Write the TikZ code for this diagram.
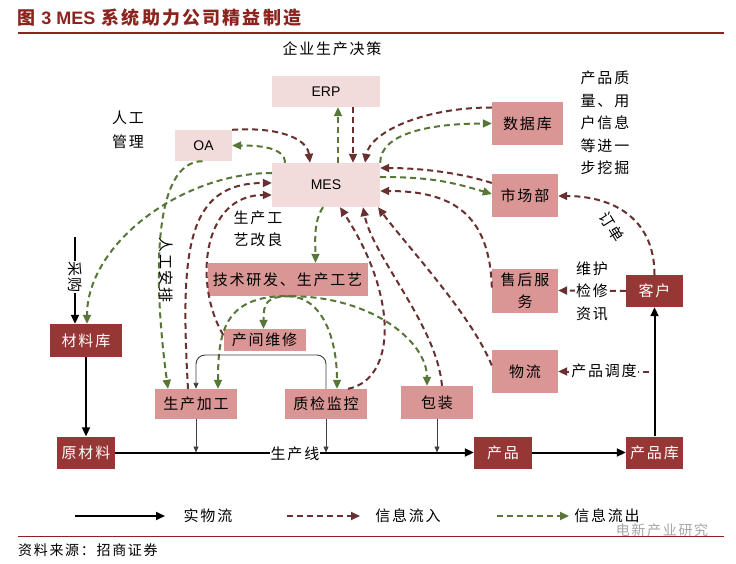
\documentclass[tikz,border=0pt]{standalone}
\usepackage{fontspec}
\setmainfont{Noto Sans CJK SC}[LetterSpace=12]
\newfontfamily\latf{Liberation Sans}
\usetikzlibrary{arrows.meta}
\definecolor{dred}{RGB}{150,55,53}
\definecolor{mpink}{RGB}{218,150,148}
\definecolor{lpink}{RGB}{242,220,219}
\definecolor{brn}{RGB}{105,48,48}
\definecolor{grn}{RGB}{88,118,56}
\definecolor{ttl}{RGB}{140,35,30}
\tikzset{
  box/.style={inner sep=0pt, align=center, font=\fontsize{15}{22}\selectfont},
  lbox/.style={box, fill=lpink, font=\latf\fontsize{14}{16}\selectfont},
  mbox/.style={box, fill=mpink},
  dbox/.style={box, fill=dred, text=white},
  bf/.style={draw=brn, line width=2pt, dash pattern=on 6pt off 4pt, -{Triangle[length=9pt,width=8pt]}},
  gf/.style={draw=grn, line width=2pt, dash pattern=on 6pt off 4pt, -{Triangle[length=9pt,width=8pt]}},
  phys/.style={draw=black, line width=2pt, -{Triangle[length=9pt,width=8pt]}},
  feed/.style={draw=black!75, line width=0.9pt, -{Triangle[length=6pt,width=5pt]}},
  ann/.style={font=\fontsize{15}{22.5}\selectfont, align=center, inner sep=1pt},
}
\begin{document}
\begin{tikzpicture}[x=1pt,y=-1pt]
\useasboundingbox[fill=white] (0,0) rectangle (736,564);
% title
\node[anchor=west, text=ttl, font=\fontsize{18}{20}\selectfont\bfseries, inner sep=0pt] (title) at (17,18) {图 {\latf\bfseries 3 MES} 系统助力公司精益制造};
\coordinate (tr1) at (18,33); \coordinate (tr2) at (724,33);
\draw[ttl, line width=2pt] (tr1) -- (tr2);
% boxes
\node[lbox, minimum width=108pt, minimum height=31pt] (erp) at (326,91.5) {ERP};
\node[lbox, minimum width=57pt, minimum height=31pt] (oa) at (203.5,145.5) {OA};
\node[lbox, minimum width=108pt, minimum height=44pt] (mes) at (326,185) {MES};
\node[mbox, minimum width=71pt, minimum height=43pt] (db) at (527.5,123.5) {数据库};
\node[mbox, minimum width=66pt, minimum height=43pt] (mkt) at (525,196) {市场部};
\node[mbox, minimum width=66pt, minimum height=44pt] (svc) at (525,290.5) {售后服\\务};
\node[dbox, minimum width=57pt, minimum height=32pt] (cust) at (654.5,291) {客户};
\node[mbox, minimum width=66pt, minimum height=43pt] (logi) at (525,371.5) {物流};
\node[mbox, minimum width=160pt, minimum height=33pt] (tech) at (287.5,279.5) {技术研发、生产工艺};
\node[mbox, minimum width=82pt, minimum height=22pt] (rep) at (264.5,340) {产间维修};
\node[dbox, minimum width=72pt, minimum height=33pt] (mat) at (86,340.5) {材料库};
\node[dbox, minimum width=58pt, minimum height=32pt] (raw) at (86,452.5) {原材料};
\node[mbox, minimum width=82pt, minimum height=30pt] (proc) at (196,404) {生产加工};
\node[mbox, minimum width=82pt, minimum height=30pt] (qc) at (326,404) {质检监控};
\node[mbox, minimum width=72pt, minimum height=33pt] (pack) at (437,402.5) {包装};
\node[dbox, minimum width=58pt, minimum height=32pt] (prod) at (503,452.5) {产品};
\node[dbox, minimum width=57pt, minimum height=32pt] (store) at (654.5,452.5) {产品库};
% annotations
\node[ann] (a1) at (332,49) {企业生产决策};
\node[ann, font=\fontsize{15}{24}\selectfont] (a2) at (128,130) {人工\\管理};
\node[ann] (a3) at (605,123) {产品质\\量、用\\户信息\\等进一\\步挖掘};
\node[ann] (a4) at (258,229) {生产工\\艺改良};
% information flows top
\draw[gf] ([xshift=12pt]mes.north) -- ([xshift=12pt]erp.south);
\draw[bf] ([xshift=27pt]erp.south) -- ([xshift=27pt]mes.north);
\draw[bf] (oa.north east) .. controls +(45,-3) and +(-3,-25) .. ([xshift=-16pt]mes.north);
\draw[gf] ([xshift=-41pt]mes.north) .. controls +(0,-16) and +(25,0) .. (oa.east);
\draw[bf] ([yshift=16pt]db.west) .. controls +(-70,0) and +(5,-30) .. ([xshift=39pt]mes.north);
\draw[gf] (mes.north east) .. controls +(0,-30) and +(-60,0) .. (db.west);
\draw[bf] ([yshift=13pt]mkt.west) .. controls +(-30,-10) and +(40,0) .. ([yshift=17pt]mes.east);
\draw[gf] ([yshift=8pt]mes.east) .. controls +(50,0) and +(-40,-12) .. ([yshift=2pt]mkt.west);
\draw[bf] ([yshift=3pt]svc.west) .. controls +(-2,-75) and +(70,0) .. ([yshift=-6pt]mes.east);
\draw[bf] ([yshift=6pt]logi.west) .. controls +(-20,-50) and +(30,40) .. ([xshift=52pt]mes.south);
\draw[bf] ([xshift=5pt]pack.north) .. controls +(-5,-60) and +(10,50) .. ([xshift=37pt]mes.south);
\draw[bf] ([xshift=22pt]qc.north) .. controls +(47,-9) and +(60,92) .. ([xshift=14pt]mes.south);
\draw[bf] ([xshift=-8pt]proc.north) .. controls +(-8,-140) and +(-85,0) .. ([yshift=2pt]mes.west);
\draw[bf] ([yshift=5pt]rep.west) .. controls +(-30,-50) and +(-70,0) .. ([yshift=-10pt]mes.west);
\draw[gf] ([yshift=12pt]mes.west) .. controls +(-90,0) and +(0,-80) .. ([xshift=1pt]mat.north);
\draw[gf] ([xshift=-1pt]oa.south) .. controls +(-50,0) and +(-15,-110) .. ([xshift=-28pt]proc.north);
\node[ann, rotate=-90] (a5) at (166,270) {人工安排};
\draw[gf] ([xshift=3pt]tech.south) .. controls +(-25,0) and +(0,-25) .. ([xshift=-1pt]rep.north);
\draw[gf] ([xshift=8pt]tech.south) .. controls +(-70,-3) and +(0,-60) .. ([xshift=22pt]proc.north);
\draw[gf] (tech.south) .. controls +(35,0) and +(0,-50) .. ([xshift=11pt]qc.north);
\draw[gf] ([xshift=3pt]tech.south) .. controls +(80,0) and +(0,-45) .. ([xshift=-10pt]pack.north);
\draw[gf] ([xshift=-3pt]mes.south) .. controls +(-10,15) and +(0,-20) .. ([xshift=28pt]tech.north);
% right side
\draw[bf] (cust.north) .. controls +(0,-60) and +(50,0) .. (mkt.east);
\node[ann, rotate=-58, inner sep=0pt] (a6) at (612,227) {订单};
\draw[bf] (cust.west) -- (svc.east);
\node[ann, fill=white] (a7) at (592,291) {维护\\检修\\资讯};
\coordinate (dd) at (649,371.5);
\draw[bf] (dd) -- (logi.east);
\node[ann, fill=white] (a8) at (604,371) {产品调度};
% physical flows
\coordinate (buy) at (75,237);
\draw[phys] (buy) -- ([xshift=-11pt]mat.north);
\node[ann, rotate=-90, fill=white, inner sep=0.5pt] (a9) at (75,277) {采购};
\draw[phys] (mat.south) -- (raw.north);
\draw[phys] (raw.east) -- (prod.west);
\node[ann, fill=white] (a10) at (295,454) {生产线};
\draw[phys] (prod.east) -- (store.west);
\draw[phys] (store.north) -- (cust.south);
\draw[feed] (proc.south) -- (proc.south |- raw.east);
\draw[feed] (qc.south) -- (qc.south |- raw.east);
\draw[feed] (pack.south) -- (pack.south |- raw.east);
\coordinate (lp) at (260,355);
\draw[feed, rounded corners=9pt] (qc.north) |- (lp) -| (proc.north);
% legend
\coordinate (la1) at (75,516); \coordinate (la2) at (165,516);
\draw[phys] (la1) -- (la2);
\node[ann] (l1) at (208,516) {实物流};
\coordinate (lb1) at (287,516); \coordinate (lb2) at (360,516);
\draw[bf] (lb1) -- (lb2);
\node[ann] (l2) at (408,516) {信息流入};
\coordinate (lc1) at (497,516); \coordinate (lc2) at (569,516);
\draw[gf] (lc1) -- (lc2);
\node[ann] (l3) at (607,516) {信息流出};
\coordinate (br1) at (18,536); \coordinate (br2) at (724,536);
\draw[ttl, line width=1pt] (br1) -- (br2);
\node[anchor=west, font=\fontsize{14}{15}\selectfont, inner sep=0pt] (src) at (18,550) {资料来源：招商证券};
\node[text=black!35, font=\fontsize{14}{14}\selectfont, inner sep=0pt] (wm) at (662,530) {电新产业研究};
\end{tikzpicture}
\end{document}
